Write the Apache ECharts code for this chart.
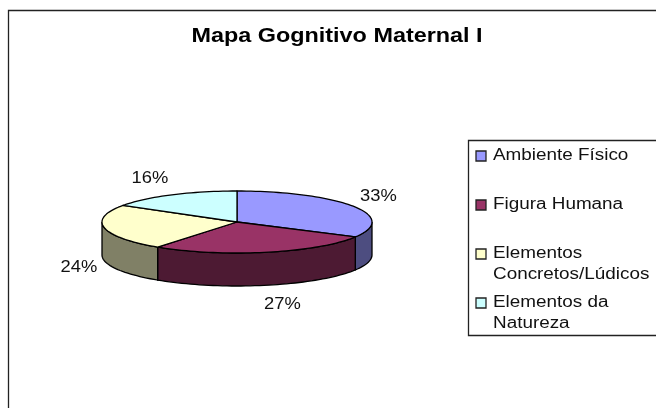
<!DOCTYPE html>
<html>
<head>
<meta charset="utf-8">
<style>
    html, body { margin: 0; padding: 0; background: #fff; }
    #chart { width: 656px; height: 408px; }
</style>
<script src="https://cdn.jsdelivr.net/npm/echarts@6/dist/echarts.min.js"></script>
</head>
<body>
<div id="chart"></div>
<script>
const chartTitle = 'Mapa Gognitivo Maternal I'
const categories = ['Ambiente Físico', 'Figura Humana', 'Elementos\nConcretos/Lúdicos', 'Elementos da\nNatureza']
const values = [33, 27, 24, 16]
const topColors = ['#9999FF', '#993366', '#FFFFCC', '#CCFFFF']
const sideColors = ['#4D4D80', '#4D1A33', '#808066', '#668080']

const fontFamily = '"Liberation Sans", Arial, sans-serif'
const total = values.reduce((a, b) => a + b, 0)

// pie geometry (flattened ellipse + wall)
const cx = 237, cy = 222, rx = 135, ry = 31, depth = 33
const outline = 1.3
// excel pushes the labels around a bit, nudges from the mid-angle spot
const labelNudge = [[2, 0], [10, 0], [1, 3], [-9, 1]]

function ellipsePoint(deg, dy) {
    const t = deg * Math.PI / 180
    return [cx + rx * Math.sin(t), cy - ry * Math.cos(t) + dy]
}

function arcPoints(from, to, dy) {
    const pts = []
    const steps = Math.max(2, Math.ceil((to - from) / 2))
    for (let i = 0; i <= steps; i++) {
        pts.push(ellipsePoint(from + (to - from) * i / steps, dy))
    }
    return pts
}

function renderSlice(params, api) {
    const i = params.dataIndex
    const val = api.value(0)
    let start = 0
    for (let k = 0; k < i; k++) start += values[k]
    const from = start / total * 360
    const to = (start + val) / total * 360
    const mid = (from + to) / 2
    const children = []

    // wall, only the front half of the pie shows it
    const wallFrom = Math.max(from, 90)
    const wallTo = Math.min(to, 270)
    if (wallTo > wallFrom) {
        const upper = arcPoints(wallFrom, wallTo, 0)
        const lower = arcPoints(wallFrom, wallTo, depth).reverse()
        children.push({
            type: 'polygon',
            shape: { points: upper.concat(lower) },
            style: { fill: sideColors[i], stroke: '#000', lineWidth: outline }
        })
    }

    children.push({
        type: 'polygon',
        shape: { points: [[cx, cy]].concat(arcPoints(from, to, 0)) },
        style: { fill: topColors[i], stroke: '#000', lineWidth: outline, lineJoin: 'round' }
    })

    // label sits outside the ellipse, below the wall on the front side
    const t = mid * Math.PI / 180
    const lx = cx + (rx + 27) * Math.sin(t) + labelNudge[i][0]
    const ly = cy - (ry + 20) * Math.cos(t) + (Math.cos(t) < 0 ? depth : 0) + labelNudge[i][1]
    children.push({
        type: 'text',
        x: lx,
        y: ly,
        scaleX: 1.08,
        style: {
            text: Math.round(val / total * 100) + '%',
            fill: '#111',
            font: '17px ' + fontFamily,
            textAlign: 'center',
            textVerticalAlign: 'middle'
        }
    })
    return { type: 'group', children: children }
}

// legend rows are uneven in the picture and the swatch follows the first line
const legendRowY = [155, 204, 253, 302]
const legendGraphics = [{
    type: 'rect',
    shape: { x: 468.5, y: 140.5, width: 200, height: 195 },
    style: { fill: '#fff', stroke: '#222', lineWidth: outline }
}]
categories.forEach(function (name, i) {
    legendGraphics.push({
        type: 'rect',
        shape: { x: 476, y: legendRowY[i] - 4, width: 10, height: 10 },
        style: { fill: topColors[i], stroke: '#222', lineWidth: outline }
    })
    legendGraphics.push({
        type: 'text',
        x: 493,
        y: legendRowY[i] - 10,
        scaleX: 1.18,
        style: {
            text: name,
            fill: '#111',
            font: '16px ' + fontFamily,
            lineHeight: 21
        }
    })
})

const myChart = echarts.init(document.getElementById('chart'), null, { renderer: 'canvas' })
const option = {
    animation: false,
    backgroundColor: '#fff',
    graphic: [{
        type: 'polyline',
        shape: { points: [[8.5, 408], [8.5, 10.5], [656, 10.5]] },
        style: { fill: 'none', stroke: '#222', lineWidth: outline }
    }, {
        type: 'text',
        x: 337,
        y: 37,
        scaleX: 1.2,
        style: {
            text: chartTitle,
            fill: '#000',
            font: 'bold 19.5px ' + fontFamily,
            textAlign: 'center',
            textVerticalAlign: 'middle'
        }
    }].concat(legendGraphics),
    series: [{
        type: 'custom',
        coordinateSystem: 'none',
        renderItem: renderSlice,
        data: values.map(v => [v])
    }]
}
myChart.setOption(option)
</script>
</body>
</html>
